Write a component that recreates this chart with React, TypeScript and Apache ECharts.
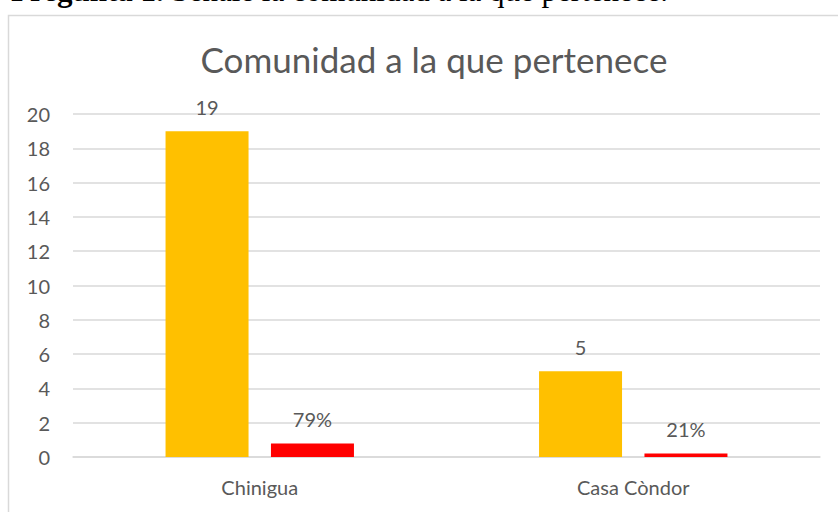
import React, { useEffect, useRef } from "react";
import * as echarts from "echarts";

const categories = ["Chinigua", "Casa Còndor"];
const counts = [19, 5];
const shares = [0.79, 0.21];
const yTicks = { min: 0, max: 20, interval: 2 };
const chartTitle = "Comunidad a la que pertenece";
const headingBold = "Pregunta 1.";
const headingRest = " Señale la comunidad a la que pertenece.";

const FONT = "Lato, 'Open Sans', sans-serif";
const TEXT = "#595959";

export default function App() {
  const ref = useRef<HTMLDivElement>(null);
  useEffect(() => {
    if (!ref.current) return;
    const chart = echarts.init(ref.current, undefined, { renderer: "svg" });
    chart.setOption({
      animation: false,
      backgroundColor: "#ffffff",
      textStyle: { fontFamily: FONT },
      title: {
        text: chartTitle,
        left: 429,
        top: 36,
        textAlign: "center",
        textStyle: { fontFamily: FONT, fontSize: 35, fontWeight: "normal", color: TEXT },
      },
      graphic: [
        {
          type: "rect",
          shape: { x: 8.5, y: 15.5, width: 900, height: 600 },
          style: { fill: "none", stroke: "#d9d9d9", lineWidth: 1.5 },
          silent: true,
        },
        {
          type: "text",
          x: 11,
          y: 6,
          style: {
            text: `{b|${headingBold}}{n|${headingRest}}`,
            verticalAlign: "bottom",
            rich: {
              b: { fontFamily: "'Liberation Serif', 'Times New Roman', serif", fontWeight: "bold", fontSize: 31, fill: "#000" },
              n: { fontFamily: "'Liberation Serif', 'Times New Roman', serif", fontSize: 31, fill: "#000" },
            },
          },
          silent: true,
        },
      ],
      grid: { left: 73, right: 18, top: 114, bottom: 55, containLabel: false },
      xAxis: {
        type: "category",
        data: categories,
        axisLine: { show: true, lineStyle: { color: "#d9d9d9", width: 1.5 } },
        axisTick: { show: false },
        axisLabel: { color: TEXT, fontSize: 20, fontFamily: FONT, margin: 20 },
      },
      yAxis: {
        type: "value",
        min: yTicks.min,
        max: yTicks.max,
        interval: yTicks.interval,
        axisLine: { show: false },
        axisTick: { show: false },
        axisLabel: { color: TEXT, fontSize: 20, fontFamily: FONT, margin: 23 },
        splitLine: { lineStyle: { color: "#d9d9d9", width: 1.5 } },
      },
      series: [
        {
          type: "bar",
          data: counts,
          barWidth: 83,
          barGap: "27%",
          itemStyle: { color: "#FFC000" },
          label: { show: true, position: "top", distance: 14, color: TEXT, fontSize: 20, fontFamily: FONT },
        },
        {
          type: "bar",
          data: shares,
          barWidth: 83,
          barGap: "27%",
          itemStyle: { color: "#FF0000" },
          label: {
            show: true,
            position: "top",
            distance: 14,
            color: TEXT,
            fontSize: 20,
            fontFamily: FONT,
            formatter: (p: any) => `${Math.round(p.value * 100)}%`,
          },
        },
      ],
    });
    return () => chart.dispose();
  }, []);
  return (
    <div
      ref={ref}
      style={{ position: "fixed", left: 0, top: 0, width: 838, height: 512 }}
    />
  );
}
